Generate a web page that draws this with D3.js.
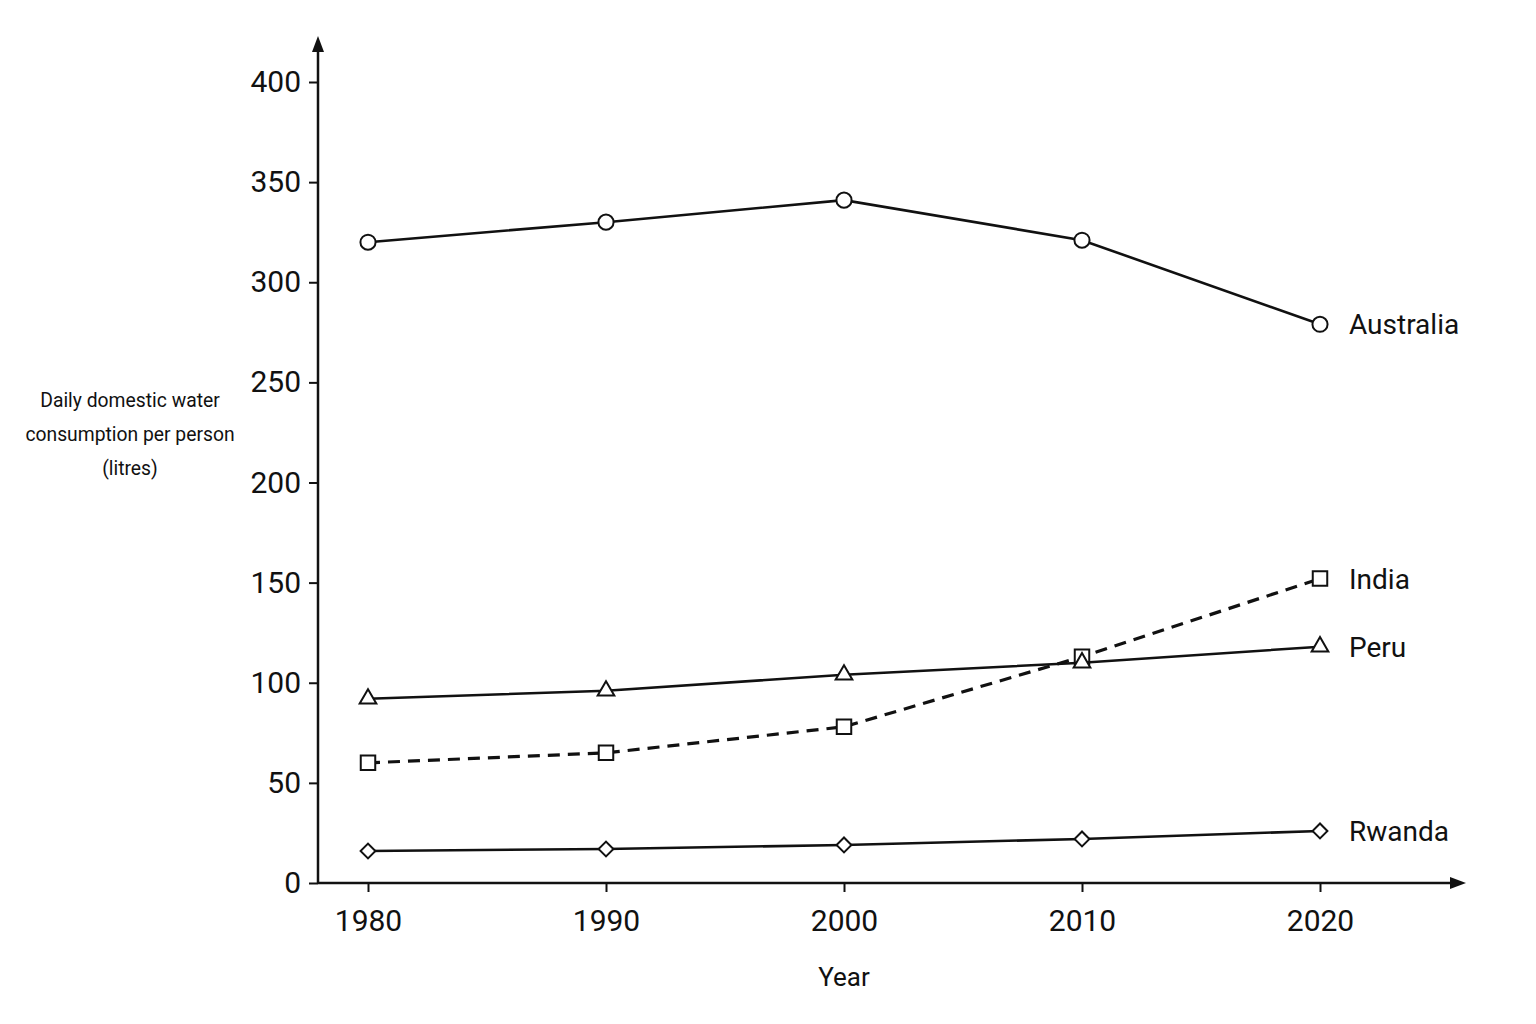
<!DOCTYPE html><html><head><meta charset="utf-8">
<script src="https://cdn.jsdelivr.net/npm/d3@7"></script>
<style>body{margin:0;background:#fff}text{font-family:"Roboto","Liberation Sans",sans-serif;fill:#111}</style>
</head><body><svg id="c" width="1536" height="1024"></svg>
<script>
const years=[1980,1990,2000,2010,2020];
const australia=[320,330,341,321,279];
const india=[60,65,78,113,152];
const peru=[92,96,104,110,118];
const rwanda=[16,17,19,22,26];
const yTicks=[0,50,100,150,200,250,300,350,400];
const series=[
 {name:"Australia",vals:australia,sym:"circle",dash:null},
 {name:"India",vals:india,sym:"square",dash:"12,8"},
 {name:"Peru",vals:peru,sym:"triangle",dash:null},
 {name:"Rwanda",vals:rwanda,sym:"diamond",dash:null}];
const svg=d3.select("#c");
const x=d3.scaleLinear().domain([1980,2020]).range([368,1320]);
const y=d3.scaleLinear().domain([0,400]).range([883,82]);
const X0=318;
svg.append("line").attr("x1",X0).attr("x2",X0).attr("y1",883).attr("y2",42).attr("stroke","#111").attr("stroke-width",2.5);
svg.append("path").attr("d",`M${X0-6},52 L${X0},36 L${X0+6},52 Z`).attr("fill","#111");
svg.append("line").attr("x1",X0).attr("x2",1458).attr("y1",883).attr("y2",883).attr("stroke","#111").attr("stroke-width",2.5);
svg.append("path").attr("d",`M1450,877 L1466,883 L1450,889 Z`).attr("fill","#111");
const ya=svg.append("g").attr("transform",`translate(${X0},0)`).call(d3.axisLeft(y).tickValues(yTicks).tickSize(9).tickPadding(8));
ya.select(".domain").remove();
ya.selectAll("line").attr("stroke","#111").attr("stroke-width",2);
ya.selectAll("text").attr("font-size",30).attr("textLength",null);
const xa=svg.append("g").attr("transform",`translate(0,883)`).call(d3.axisBottom(x).tickValues(years).tickFormat(d3.format("d")).tickSize(9).tickPadding(18));
xa.select(".domain").remove();
xa.selectAll("line").attr("stroke","#111").attr("stroke-width",2);
xa.selectAll("text").attr("font-size",30);
svg.append("text").attr("x",844).attr("y",986).attr("text-anchor","middle").attr("font-size",26).text("Year");
["Daily domestic water","consumption per person","(litres)"].forEach((t,i)=>svg.append("text").attr("x",130).attr("y",407+i*34).attr("text-anchor","middle").attr("font-size",21).attr("transform","translate(130,0) scale(0.92,1) translate(-130,0)").text(t));
const line=d3.line().x((d,i)=>x(years[i])).y(d=>y(d));
const symMap={circle:d3.symbolCircle,square:d3.symbolSquare,triangle:d3.symbolTriangle,diamond:d3.symbolSquare};
const sizes={circle:180,square:210,triangle:120,diamond:110};
series.forEach(s=>{
 svg.append("path").attr("d",line(s.vals)).attr("fill","none").attr("stroke","#111").attr("stroke-width",s.dash?3.2:2.6).attr("stroke-dasharray",s.dash);
 s.vals.forEach((v,i)=>svg.append("path").attr("d",d3.symbol(symMap[s.sym],sizes[s.sym])()).attr("transform",`translate(${x(years[i])},${y(v)})`+(s.sym==="diamond"?" rotate(45)":"")).attr("fill","#fff").attr("stroke","#111").attr("stroke-width",2));
 svg.append("text").attr("x",1349).attr("y",y(s.vals[4])+10).attr("font-size",28).text(s.name);
});
</script></body></html>
